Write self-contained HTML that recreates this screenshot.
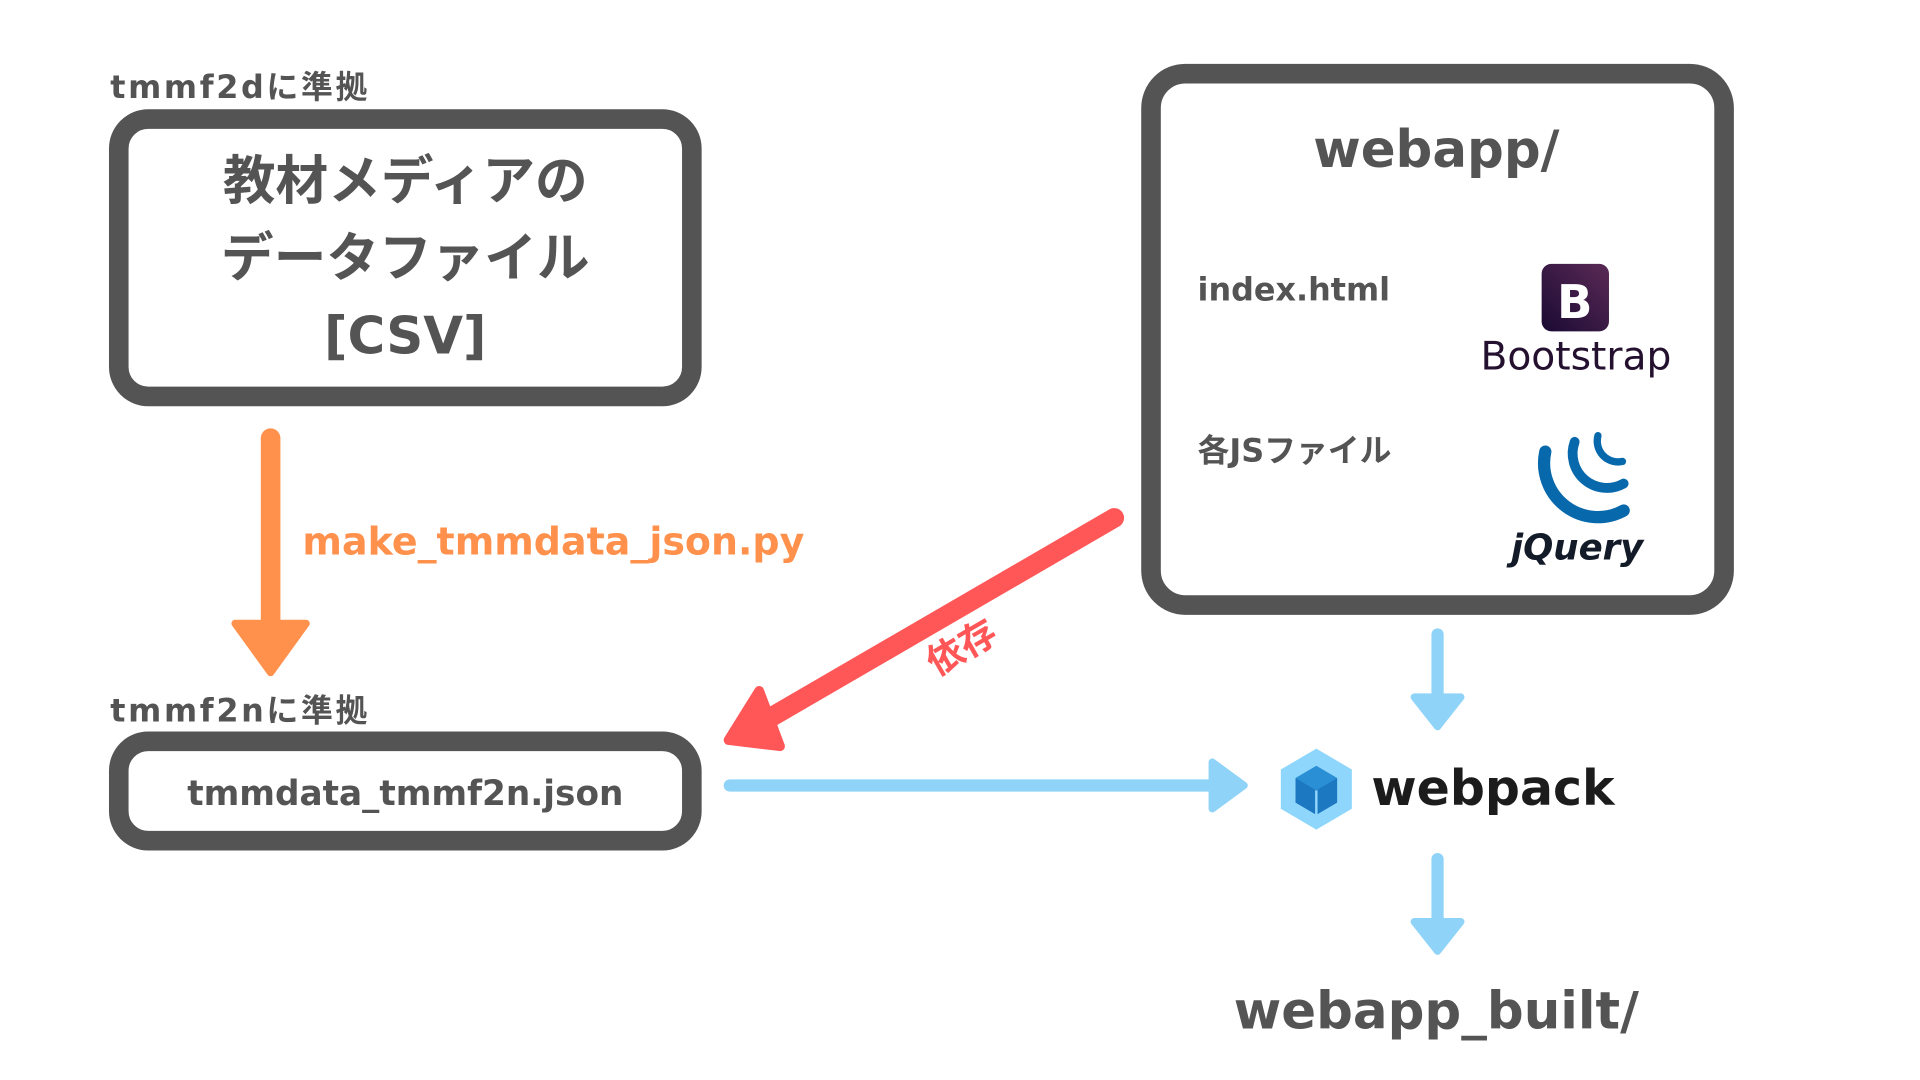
<!DOCTYPE html>
<html><head><meta charset="utf-8">
<style>
html,body{margin:0;padding:0;background:#fff;width:1920px;height:1080px;overflow:hidden}
svg{display:block}
text{font-family:"DejaVu Sans","Liberation Sans","Noto Sans CJK JP",sans-serif;font-weight:bold;fill:#545454}
</style></head><body>
<svg width="1920" height="1080" viewBox="0 0 1568 880" preserveAspectRatio="none" xmlns="http://www.w3.org/2000/svg">
<defs>
<linearGradient id="bs" x1="0" y1="1" x2="1" y2="0"><stop offset="0" stop-color="#1a0a33"/><stop offset="1" stop-color="#5a2a56"/></linearGradient>
</defs>
<text x="90" y="80" font-size="26" textLength="210">tmmf2dに準拠</text>
<text x="90" y="588" font-size="26" textLength="210">tmmf2nに準拠</text>
<rect x="97" y="97" width="468" height="226" rx="24" fill="#fff" stroke="#545454" stroke-width="16"/>
<text x="331" y="162" font-size="43" text-anchor="middle">教材メディアの</text>
<text x="331" y="225" font-size="43" text-anchor="middle">データファイル</text>
<text x="331" y="288" font-size="42" text-anchor="middle">[CSV]</text>
<line x1="221" y1="357" x2="221" y2="512" stroke="#ff914d" stroke-width="16" stroke-linecap="round"/>
<path d="M192 508 L250 508 L221 548 Z" fill="#ff914d" stroke="#ff914d" stroke-width="6" stroke-linejoin="round"/>
<text x="247" y="452" font-size="31" style="fill:#ff914d">make_tmmdata_json.py</text>
<rect x="97" y="604" width="468" height="81" rx="24" fill="#fff" stroke="#545454" stroke-width="16"/>
<text x="331" y="656" font-size="28" text-anchor="middle">tmmdata_tmmf2n.json</text>
<rect x="940" y="60" width="468" height="433" rx="28" fill="#fff" stroke="#545454" stroke-width="16"/>
<text x="1173" y="136" font-size="42" text-anchor="middle">webapp/</text>
<text x="978" y="245" font-size="26">index.html</text>
<text x="978" y="376" font-size="26">各JSファイル</text>
<rect x="1259" y="215" width="55" height="55" rx="8" fill="url(#bs)"/>
<text x="1286" y="259" font-size="38" text-anchor="middle" style="fill:#fff">B</text>
<text x="1287" y="301" font-size="32" text-anchor="middle" style="fill:#24102f;font-weight:normal">Bootstrap</text>
<g fill="none" stroke="#0868ac" stroke-linecap="round">
<path d="M1262 368 A44 44 0 0 0 1326 416" stroke-width="10"/>
<path d="M1286 360 A28 28 0 0 0 1326 394" stroke-width="8"/>
<path d="M1305 355 A17 17 0 0 0 1325 376" stroke-width="6"/>
</g>
<text x="1288" y="456" font-size="29" text-anchor="middle" style="fill:#131b28;font-style:italic">jQuery</text>
<line x1="910" y1="422" x2="620" y2="590" stroke="#ff5757" stroke-width="16" stroke-linecap="round"/>
<path d="M595 603 L620 563 L637 608 Z" fill="#ff5757" stroke="#ff5757" stroke-width="8" stroke-linejoin="round"/>
<text x="785" y="538" font-size="30" text-anchor="middle" transform="rotate(-30 785 527)" style="fill:#ff5757">依存</text>
<g stroke="#8fd3f9" fill="#8fd3f9" stroke-linecap="round" stroke-linejoin="round">
<line x1="1174" y1="517" x2="1174" y2="568" stroke-width="10"/>
<path d="M1155 568 L1193 568 L1174 592 Z" stroke-width="6"/>
<line x1="596" y1="640" x2="990" y2="640" stroke-width="10"/>
<path d="M990 621 L990 659 L1016 640 Z" stroke-width="6"/>
<line x1="1174" y1="700" x2="1174" y2="751" stroke-width="10"/>
<path d="M1155 751 L1193 751 L1174 775 Z" stroke-width="6"/>
</g>
<g transform="translate(1075 643)">
<path d="M0 -33 L29 -16 L29 16 L0 33 L-29 16 L-29 -16 Z" fill="#8ed6fb"/>
<path d="M0 -19 L17 -9 L17 11 L0 21 L-17 11 L-17 -9 Z" fill="#1c78c0"/>
<path d="M0 -19 L17 -9 L0 1 L-17 -9 Z" fill="#2b8fd6"/>
<path d="M0 1 L0 21" stroke="#8ed6fb" stroke-width="2"/>
</g>
<text x="1120" y="656" font-size="40" style="fill:#1c1c1c">webpack</text>
<text x="1173" y="838" font-size="42" text-anchor="middle">webapp_built/</text>
</svg>
</body></html>
